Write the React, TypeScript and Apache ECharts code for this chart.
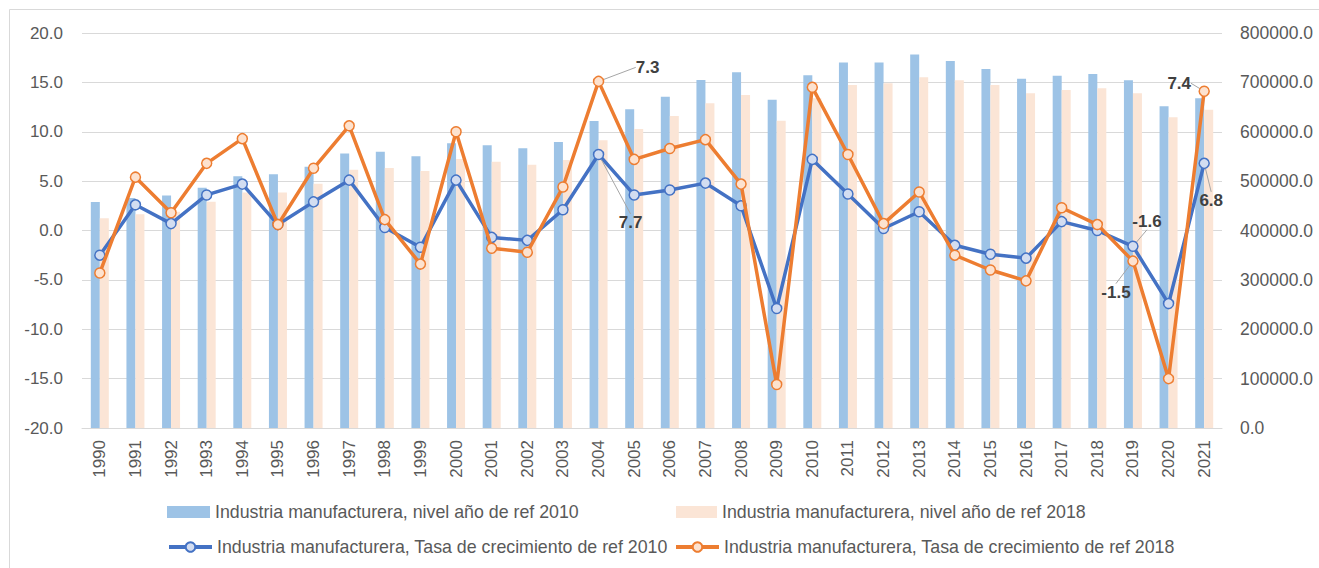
import React, { useEffect, useRef } from "react";
import * as echarts from "echarts";

const years = [
  "1990", "1991", "1992", "1993", "1994", "1995", "1996", "1997", "1998", "1999",
  "2000", "2001", "2002", "2003", "2004", "2005", "2006", "2007", "2008", "2009",
  "2010", "2011", "2012", "2013", "2014", "2015", "2016", "2017", "2018", "2019",
  "2020", "2021",
];

const nivelRef2010 = [
  457700, 466000, 471000, 486700, 510000, 513800, 529000, 556000, 559600, 550200,
  576600, 572600, 566500, 579200, 621800, 645400, 671000, 704800, 720400, 664900,
  714300, 740500, 740500, 756700, 743300, 727100, 707500, 713500, 717000, 704100,
  651500, 667700,
];

const nivelRef2018 = [
  424700, 433000, 438000, 458000, 477000, 477000, 494800, 523000, 526600, 520500,
  545000, 539300, 533300, 542800, 582700, 605600, 631900, 657600, 674400, 622400,
  668000, 694700, 698000, 710200, 704100, 694700, 677800, 684500, 688000, 677800,
  629200, 644700,
];

const tasaRef2010 = [
  -2.5, 2.6, 0.7, 3.6, 4.7, 0.6, 2.9, 5.1, 0.3, -1.7,
  5.1, -0.7, -1.0, 2.1, 7.7, 3.6, 4.1, 4.8, 2.5, -7.9,
  7.2, 3.7, 0.2, 1.9, -1.5, -2.4, -2.8, 0.9, 0.0, -1.6,
  -7.4, 6.8,
];

const tasaRef2018 = [
  -4.3, 5.4, 1.8, 6.8, 9.3, 0.6, 6.3, 10.6, 1.1, -3.4,
  10.0, -1.8, -2.2, 4.4, 15.1, 7.2, 8.3, 9.2, 4.7, -15.6,
  14.5, 7.7, 0.7, 3.9, -2.5, -4.0, -5.1, 2.3, 0.6, -3.1,
  -15.0, 14.1,
];

const labelYears2010 = ["2004", "2019", "2021"];
const labelTexts2010 = ["7.7", "-1.6", "6.8"];
const labelYears2018 = ["2004", "2019", "2021"];
const labelTexts2018 = ["7.3", "-1.5", "7.4"];

const seriesNames = [
  "Industria manufacturera, nivel año de ref 2010",
  "Industria manufacturera, nivel año de ref 2018",
  "Industria manufacturera, Tasa de crecimiento de ref 2010",
  "Industria manufacturera, Tasa de crecimiento de ref 2018",
];

// label placement offsets (styling, relative to the point)
const offsets2010: Record<string, [number, number]> = {
  "2004": [32, 68],
  "2019": [14, -25],
  "2021": [7, 37],
};
const offsets2018: Record<string, [number, number]> = {
  "2004": [49, -14],
  "2019": [-17, 31],
  "2021": [-25, -8],
};

const FONT = "'Liberation Sans', Arial, sans-serif";

function labelled(values: number[], lblYears: string[], lblTexts: string[]) {
  return values.map((v, i) => {
    const k = lblYears.indexOf(years[i]);
    if (k >= 0) {
      return { value: v, label: { show: true, formatter: lblTexts[k] } };
    }
    return v;
  });
}

export default function App() {
  const ref = useRef<HTMLDivElement>(null);

  useEffect(() => {
    if (!ref.current) return;
    const chart = echarts.init(ref.current, null, { renderer: "svg" });

    const lineLabel = {
      show: false,
      position: "inside",
      fontSize: 17,
      fontWeight: "bold",
      color: "#404040",
      fontFamily: FONT,
    };
    const labelLine = {
      show: true,
      lineStyle: { color: "#a6a6a6", width: 1 },
    };

    const legendText = { fontSize: 17.8, color: "#595959", fontFamily: FONT };
    const legendBase = {
      padding: 0,
      itemHeight: 12,
      selectedMode: false,
      textStyle: legendText,
    };

    const option: any = {
      animation: false,
      backgroundColor: "#ffffff",
      textStyle: { fontFamily: FONT },
      graphic: [
        {
          type: "rect",
          shape: { x: 9.5, y: 9.5, width: 1340, height: 600 },
          style: { fill: "none", stroke: "#d9d9d9", lineWidth: 1 },
          silent: true,
          z: -10,
        },
      ],
      grid: { left: 82, right: 97, top: 33, bottom: 140 },
      legend: [
        { ...legendBase, data: [seriesNames[0]], left: 167, top: 503, icon: "rect", itemWidth: 43 },
        { ...legendBase, data: [seriesNames[1]], left: 676, top: 503, icon: "rect", itemWidth: 41 },
        {
          ...legendBase,
          data: [seriesNames[2]],
          left: 167,
          top: 538,
          itemWidth: 43,
          lineStyle: { width: 4 },
        },
        {
          ...legendBase,
          data: [seriesNames[3]],
          left: 674,
          top: 538,
          itemWidth: 43,
          lineStyle: { width: 4 },
        },
      ],
      xAxis: {
        type: "category",
        data: years,
        boundaryGap: true,
        axisLine: { show: true, onZero: false, lineStyle: { color: "#d9d9d9", width: 1 } },
        axisTick: { show: false },
        axisLabel: {
          rotate: 90,
          margin: 12,
          fontSize: 17,
          color: "#595959",
          fontFamily: FONT,
          interval: 0,
        },
      },
      yAxis: [
        {
          type: "value",
          min: -20,
          max: 20,
          interval: 5,
          axisLine: { show: false },
          axisTick: { show: false },
          splitLine: { show: true, lineStyle: { color: "#d9d9d9", width: 1 } },
          axisLabel: {
            margin: 19,
            fontSize: 17,
            color: "#595959",
            fontFamily: FONT,
            formatter: (v: number) => v.toFixed(1),
          },
        },
        {
          type: "value",
          min: 0,
          max: 800000,
          interval: 100000,
          position: "right",
          axisLine: { show: false },
          axisTick: { show: false },
          splitLine: { show: false },
          axisLabel: {
            margin: 18,
            fontSize: 17.5,
            color: "#595959",
            fontFamily: FONT,
            formatter: (v: number) => v.toFixed(1),
          },
        },
      ],
      series: [
        {
          name: seriesNames[0],
          type: "bar",
          yAxisIndex: 1,
          data: nivelRef2010,
          barWidth: 9,
          barGap: "0%",
          itemStyle: { color: "#9dc3e6" },
          z: 1,
        },
        {
          name: seriesNames[1],
          type: "bar",
          yAxisIndex: 1,
          data: nivelRef2018,
          barWidth: 9,
          barGap: "0%",
          itemStyle: { color: "#fbe5d6" },
          z: 1,
        },
        {
          name: seriesNames[2],
          type: "line",
          yAxisIndex: 0,
          data: labelled(tasaRef2010, labelYears2010, labelTexts2010),
          symbol: "circle",
          symbolSize: 10,
          showAllSymbol: true,
          lineStyle: { color: "#4472c4", width: 3.5 },
          itemStyle: { color: "#d3ddf1", borderColor: "#4472c4", borderWidth: 1.5 },
          label: lineLabel,
          labelLine: labelLine,
          labelLayout: (p: any) => {
            const o = offsets2010[years[p.dataIndex]];
            return o ? { dx: o[0], dy: o[1] } : {};
          },
          z: 3,
        },
        {
          name: seriesNames[3],
          type: "line",
          yAxisIndex: 0,
          data: labelled(tasaRef2018, labelYears2018, labelTexts2018),
          symbol: "circle",
          symbolSize: 10,
          showAllSymbol: true,
          lineStyle: { color: "#ed7d31", width: 3.5 },
          itemStyle: { color: "#fde2cf", borderColor: "#ed7d31", borderWidth: 1.5 },
          label: lineLabel,
          labelLine: labelLine,
          labelLayout: (p: any) => {
            const o = offsets2018[years[p.dataIndex]];
            return o ? { dx: o[0], dy: o[1] } : {};
          },
          z: 4,
        },
      ],
    };

    chart.setOption(option);
    return () => {
      chart.dispose();
    };
  }, []);

  return (
    <div
      ref={ref}
      style={{ position: "fixed", left: 0, top: 0, width: 1319, height: 568, background: "#fff" }}
    />
  );
}
